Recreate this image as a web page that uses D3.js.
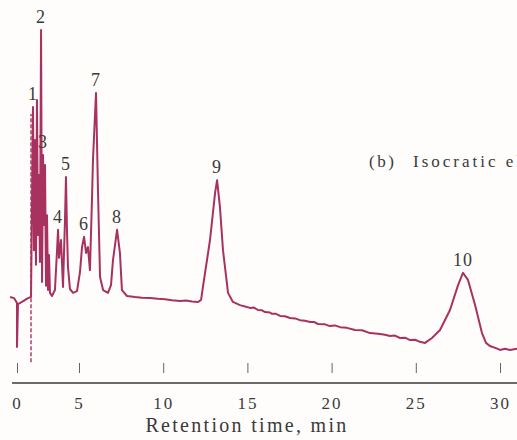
<!DOCTYPE html>
<html>
<head>
<meta charset="utf-8">
<script src="https://cdn.jsdelivr.net/npm/d3@7"></script>
<style>
  body { margin: 0; background: #fefdfb; }
  svg { display: block; font-family: "Liberation Serif", "DejaVu Serif", serif; }
</style>
</head>
<body>
<div id="chart"></div>
<script>
// retention time (min) and detector signal (arbitrary units)
const times = [
  -0.56, -0.24, 0, 0, 0.08, 0.40, 0.89, 1.13,
  1.29, 1.37, 1.45, 1.53, 1.61, 1.69, 1.77, 1.85, 1.94, 2.02, 2.10, 2.18, 2.26, 2.34, 2.42, 2.50, 2.58, 2.66,
  2.82, 3.06, 3.23, 3.31, 3.39, 3.55, 3.71, 3.87, 3.95, 4.03, 4.11, 4.27, 4.52, 4.84,
  5.06, 5.18, 5.30, 5.42, 5.53, 5.65, 5.77, 5.83, 6.01, 6.13, 6.25, 6.43, 6.72,
  6.90, 7.02, 7.26, 7.43, 7.55, 7.85,
  8.33, 8.74, 9.22, 9.69, 10.11, 10.52, 11.00, 11.35, 11.71, 12.07,
  12.25, 12.36, 12.78, 13.08, 13.20, 13.37, 13.55, 13.85, 14.14,
  14.56, 14.86, 15.15, 15.39, 15.63, 15.87, 16.05, 16.34, 16.46, 16.70, 16.94, 17.23, 17.53, 17.83,
  18.12, 18.42, 18.72, 18.95, 19.19, 19.61, 19.90, 20.20, 20.50, 20.91, 21.39, 21.81, 22.28, 22.76,
  23.17, 23.47, 23.76, 24.06, 24.36, 24.66, 24.95, 25.25, 25.55,
  25.96, 26.44, 27.03, 27.51, 27.80, 28.10, 28.52, 28.93, 29.17, 29.40, 29.76, 30.00, 30.30, 30.59, 31.01
];
const signal = [
  21.7, 21.4, 20.0, 7.4, 19.7, 20.3, 21.4, 21.7,
  76.0, 35.1, 66.6, 30.9, 78.0, 39.4, 56.6, 31.7, 98.0, 26.0, 62.3, 42.3, 59.4, 24.9, 45.1, 23.7, 33.7, 22.9,
  22.0, 23.7, 35.1, 40.9, 32.9, 38.0, 24.6, 43.7, 56.0, 40.9, 30.3, 24.0, 22.9, 23.4,
  28.9, 36.0, 38.9, 34.3, 36.0, 29.4, 49.4, 60.9, 80.0, 51.4, 27.4, 23.7, 22.9,
  25.1, 32.3, 40.9, 34.3, 23.7, 22.0,
  21.7, 21.5, 21.4, 21.2, 21.1, 20.8, 20.6, 20.7, 20.4, 20.3,
  20.9, 24.6, 38.0, 51.4, 55.1, 47.4, 35.1, 22.9, 20.3,
  19.4, 19.0, 18.6, 18.7, 18.0, 17.9, 17.4, 17.3, 16.9, 16.9, 16.3, 16.2, 15.7, 15.6,
  15.1, 14.9, 14.6, 14.6, 14.0, 13.9, 13.4, 13.6, 13.1, 12.9, 12.3, 12.2, 11.4, 11.2,
  10.9, 10.6, 10.7, 10.0, 10.1, 9.4, 9.5, 8.9, 8.6,
  10.0, 12.3, 18.0, 25.1, 28.6, 26.6, 19.4, 11.4, 8.6, 7.7, 7.1, 6.6, 6.9, 6.6, 6.9
];

// injection marker (dashed pen stroke)
const injectionTime = 1.13;
const injectionRange = [3.1, 74];

// peak numbers and their apexes
const peakLabels = ["1", "2", "3", "4", "5", "6", "7", "8", "9", "10"];
const peakTimes = [1.29, 1.94, 2.10, 3.31, 3.95, 5.30, 6.01, 7.26, 13.20, 27.80];
const peakValues = [76.0, 98.0, 62.3, 40.9, 56.0, 38.9, 80.0, 40.9, 55.1, 28.6];

const tickValues = [0, 5, 10, 15, 20, 25, 30];
const xTitle = "Retention time, min";
const panelLabel = ["(b)", "Isocratic elution"];

const width = 517, height = 440;
const axisY = 383;
const traceColor = "#a8325f";
const inkColor = "#3a3a3a";

const svg = d3.select("#chart").append("svg")
  .attr("width", width)
  .attr("height", height);

// the printed time axis is not evenly spaced near 0
const x = d3.scaleLinear()
  .domain([0, 5, 30])
  .range([17, 79, 500]);

const y = d3.scaleLinear()
  .domain([0, 100])
  .range([373, 23]);

// axis line
svg.append("line")
  .attr("x1", 12)
  .attr("x2", width)
  .attr("y1", axisY)
  .attr("y2", axisY)
  .attr("stroke", inkColor)
  .attr("stroke-width", 1.6);

let axis = svg.append("g")
  .attr("transform", "translate(0," + axisY + ")")
  .call(d3.axisBottom(x).tickValues(tickValues).tickSize(0));

axis.select(".domain").remove();

axis.selectAll(".tick text")
  .attr("y", 26)
  .attr("dy", 0)
  .attr("fill", inkColor)
  .style("font-family", "Liberation Serif, serif")
  .style("font-size", "17px")
  .style("letter-spacing", "2px");

// tick marks float above the axis line
axis.selectAll(".tick").append("line")
  .attr("y1", -20)
  .attr("y2", -10)
  .attr("stroke", "#666")
  .attr("stroke-width", 1);

svg.append("text")
  .attr("x", 247)
  .attr("y", 432)
  .attr("text-anchor", "middle")
  .attr("fill", inkColor)
  .style("font-size", "20px")
  .style("letter-spacing", "2.3px")
  .text(xTitle);

// injection marker
svg.append("line")
  .attr("x1", x(injectionTime))
  .attr("x2", x(injectionTime))
  .attr("y1", y(injectionRange[0]))
  .attr("y2", y(injectionRange[1]))
  .attr("stroke", traceColor)
  .attr("stroke-width", 1.4)
  .attr("stroke-dasharray", "4,2");

// chromatogram trace
let line = d3.line()
  .x(d => x(d[0]))
  .y(d => y(d[1]));

svg.append("path")
  .datum(d3.zip(times, signal))
  .attr("d", line)
  .attr("fill", "none")
  .attr("stroke", traceColor)
  .attr("stroke-width", 2)
  .attr("stroke-linejoin", "round");

// peak numbers
svg.selectAll(".peak-label")
  .data(peakLabels)
  .enter()
  .append("text")
  .attr("class", "peak-label")
  .attr("x", (d, i) => x(peakTimes[i]))
  .attr("y", (d, i) => y(peakValues[i]) - 7)
  .attr("text-anchor", "middle")
  .attr("fill", inkColor)
  .style("font-size", "18px")
  .style("letter-spacing", "1px")
  .text(d => d);

svg.append("text")
  .attr("x", 369)
  .attr("y", 167)
  .attr("fill", inkColor)
  .style("font-size", "17px")
  .style("letter-spacing", "2.5px")
  .text(panelLabel[0]);

svg.append("text")
  .attr("x", 413)
  .attr("y", 167)
  .attr("fill", inkColor)
  .style("font-size", "17px")
  .style("letter-spacing", "3px")
  .text(panelLabel[1]);
</script>
</body>
</html>
